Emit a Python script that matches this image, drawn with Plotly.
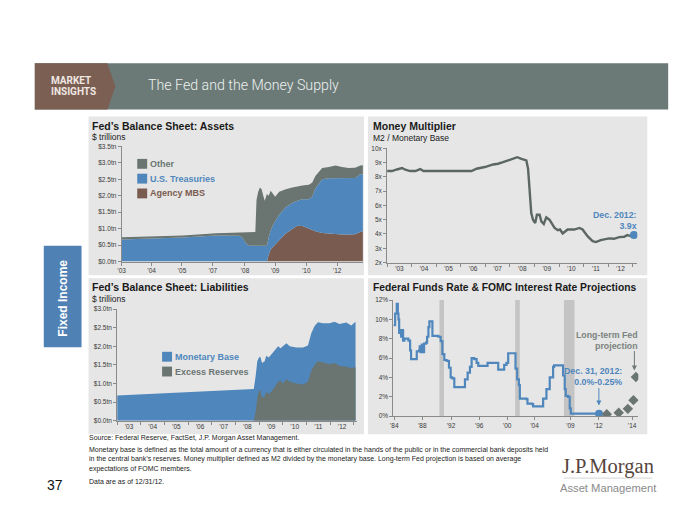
import plotly.graph_objects as go

W, H = 700, 525
def px(x): return x / W
def py(y): return 1 - y / H

SANS = "Liberation Sans, Arial, sans-serif"
NARROW = "Liberation Sans Narrow, Arial Narrow, Liberation Sans, Arial, sans-serif"

BLUE = "#4f87bd"
GRAY = "#6a7572"
BROWN = "#7a5b4f"
PANEL = "#e6e6e6"

# ---------------- Data ----------------
# Fed's Balance Sheet: Assets ($ trillions)
assets_years = [2003.0, 2004.17, 2005.54, 2006.91, 2007.88, 2008.01, 2008.15, 2008.29, 2008.54,
                2008.59, 2008.66, 2008.73, 2008.80, 2008.87, 2008.93, 2009.02, 2009.09, 2009.18,
                2009.28, 2009.36, 2009.53, 2009.80, 2010.07, 2010.28, 2010.49, 2010.76, 2010.90,
                2011.03, 2011.31, 2011.59, 2011.86, 2012.13, 2012.41, 2012.68, 2012.89, 2013.0]
agency_mbs = [0, 0, 0, 0, 0, 0, 0, 0, 0, 0, 0, 0, 0, 0, 0, 0, 0.20, 0.37,
              0.45, 0.52, 0.65, 0.85, 1.00, 1.09, 1.08, 0.99, 0.95,
              0.92, 0.87, 0.85, 0.82, 0.82, 0.82, 0.83, 0.90, 0.93]
us_treasuries = [0.67, 0.69, 0.73, 0.79, 0.78, 0.72, 0.55, 0.48, 0.48, 0.48, 0.48, 0.48, 0.48, 0.48, 0.48, 0.48, 0.52, 0.58,
                 0.67, 0.70, 0.77, 0.80, 0.78, 0.76, 0.81, 0.90, 1.03,
                 1.30, 1.63, 1.68, 1.71, 1.70, 1.70, 1.71, 1.75, 1.72]
other_assets = [0.07, 0.07, 0.06, 0.07, 0.10, 0.16, 0.34, 0.41, 0.42, 1.39, 1.64, 1.77, 1.72, 1.52, 1.37, 1.57, 1.28, 1.20,
                0.93, 0.75, 0.70, 0.55, 0.47, 0.44, 0.42, 0.44, 0.42,
                0.38, 0.34, 0.34, 0.39, 0.35, 0.32, 0.31, 0.27, 0.28]
assets_tick_pos = [2003.0, 2004.24, 2005.5, 2006.78, 2008.11, 2009.36, 2010.65, 2011.93]
assets_tick_txt = ["’03", "’04", "’05", "’07", "’08", "’09", "’10", "’12"]
assets_y_ticks = [0, 0.5, 1.0, 1.5, 2.0, 2.5, 3.0, 3.5]
assets_y_txt = ["$0.0tn", "$0.5tn", "$1.0tn", "$1.5tn", "$2.0tn", "$2.5tn", "$3.0tn", "$3.5tn"]

# Money multiplier (M2 / Monetary Base)
mm_years = [2003.0, 2003.2, 2003.4, 2003.61, 2003.74, 2003.94, 2004.15, 2004.35, 2004.48, 2004.96,
            2005.5, 2006.04, 2006.44, 2006.64, 2006.98, 2007.32, 2007.52, 2007.72, 2007.93, 2008.13,
            2008.30, 2008.47, 2008.67, 2008.74, 2008.80, 2008.87, 2008.94, 2009.03, 2009.10, 2009.21,
            2009.28, 2009.38, 2009.48, 2009.61, 2009.82, 2009.95, 2010.04, 2010.15, 2010.35, 2010.62,
            2010.83, 2010.96, 2011.16, 2011.37, 2011.50, 2011.70, 2012.04, 2012.24, 2012.45, 2012.65,
            2012.78, 2012.92, 2013.05]
mm_values = [8.41, 8.41, 8.52, 8.62, 8.50, 8.41, 8.41, 8.55, 8.41, 8.41,
             8.41, 8.46, 8.41, 8.57, 8.69, 8.87, 8.92, 9.03, 9.15, 9.31,
             9.38, 9.26, 9.15, 8.57, 7.07, 5.46, 5.00, 4.77, 5.35, 5.35,
             4.88, 4.70, 5.16, 5.00, 4.42, 4.26, 4.31, 4.03, 4.31, 4.31,
             4.42, 4.31, 3.85, 3.50, 3.43, 3.57, 3.69, 3.66, 3.78, 3.80,
             3.92, 3.85, 3.92]
mm_tick_pos = [2003.5, 2004.5, 2005.5, 2006.5, 2007.5, 2008.5, 2009.5, 2010.5, 2011.5, 2012.5]
mm_tick_txt = ["’03", "’04", "’05", "’06", "’07", "’08", "’09", "’10", "’11", "’12"]
mm_y_ticks = [2, 3, 4, 5, 6, 7, 8, 9, 10]
mm_y_txt = ["2x", "3x", "4x", "5x", "6x", "7x", "8x", "9x", "10x"]

# Fed's Balance Sheet: Liabilities ($ trillions)
liab_years = [2003.0, 2005.79, 2008.67, 2008.77, 2008.85, 2008.92, 2008.99, 2009.05, 2009.12, 2009.23,
              2009.30, 2009.40, 2009.51, 2009.66, 2009.80, 2009.90, 2010.01, 2010.15, 2010.29, 2010.57,
              2010.85, 2011.06, 2011.20, 2011.34, 2011.48, 2011.69, 2011.97, 2012.18, 2012.39, 2012.68,
              2012.89, 2013.07]
monetary_base = [0.68, 0.76, 0.83, 0.85, 1.20, 1.60, 1.70, 1.72, 1.55, 1.60,
                 1.75, 1.70, 1.78, 1.90, 2.00, 1.95, 2.00, 2.08, 2.00, 1.97,
                 1.97, 2.02, 2.35, 2.55, 2.65, 2.62, 2.62, 2.66, 2.60, 2.64,
                 2.56, 2.66]
excess_reserves = [0, 0, 0, 0, 0.25, 0.62, 0.80, 0.82, 0.62, 0.65,
                   0.78, 0.72, 0.78, 0.92, 1.05, 1.08, 1.00, 1.12, 1.05, 1.00,
                   0.97, 1.05, 1.35, 1.50, 1.60, 1.57, 1.52, 1.55, 1.48, 1.45,
                   1.42, 1.44]
liab_y_ticks = [0, 0.5, 1.0, 1.5, 2.0, 2.5, 3.0]
liab_y_txt = ["$0.0tn", "$0.5tn", "$1.0tn", "$1.5tn", "$2.0tn", "$2.5tn", "$3.0tn"]

# Federal funds rate (%)
ff_years = [1984.0, 1984.24, 1984.47, 1984.62, 1984.71, 1984.81, 1984.95, 1985.09, 1985.23, 1985.37,
            1985.56, 1985.9, 1986.13, 1986.37, 1986.51, 1987.18, 1987.32, 1987.65, 1987.74, 1987.89,
            1988.03, 1988.17, 1988.36, 1988.64, 1988.79, 1988.98, 1989.12, 1989.36, 1989.55, 1990.4,
            1990.73, 1990.97, 1991.25, 1991.58, 1991.91, 1992.15, 1992.39, 1992.67, 1993.95, 1994.19,
            1994.57, 1994.9, 1995.14, 1995.52, 1995.85, 1996.09, 1997.27, 1997.41, 1998.69, 1998.93,
            1999.4, 1999.78, 2000.11, 2000.35, 2001.2, 2001.39, 2001.63, 2001.87, 2002.01, 2002.96,
            2003.1, 2003.76, 2003.9, 2004.85, 2005.33, 2005.8, 2006.27, 2006.75, 2006.89, 2007.93,
            2008.17, 2008.41, 2008.55, 2008.89, 2009.12, 2009.27, 2013.3]
ff_rate = [9.4, 10.6, 11.6, 10.6, 10.0, 8.6, 8.9, 8.2, 8.9, 7.8,
           8.0, 8.0, 7.8, 6.8, 5.9, 5.9, 6.7, 6.8, 7.2, 6.6,
           7.4, 6.6, 7.5, 7.6, 8.2, 9.2, 9.8, 9.8, 8.3, 8.2,
           7.75, 6.4, 5.8, 5.7, 5.0, 4.0, 3.9, 3.0, 3.0, 3.8,
           4.5, 5.1, 6.0, 5.9, 5.5, 5.2, 5.2, 5.5, 5.5, 4.8,
           4.8, 5.3, 5.5, 6.5, 6.5, 4.9, 3.8, 3.2, 1.8, 1.75,
           1.3, 1.25, 1.0, 1.0, 1.8, 2.8, 4.0, 5.1, 5.25, 5.25,
           4.2, 2.8, 2.1, 2.0, 0.8, 0.25, 0.25]
ff_last_year = [2013.3]
ff_last_rate = [0.25]
fomc_years = [2014.4, 2016.1, 2017.4, 2018.2, 2018.55]
fomc_rates = [0.2, 0.35, 0.75, 1.65, 4.05]
recessions = [(1990.55, 1991.2), (2001.35, 2002.0), (2008.3, 2009.8)]
ff_tick_pos = [1984.1, 1988.1, 1992.2, 1996.2, 2000.2, 2004.1, 2009.2, 2013.2, 2018.0]
ff_tick_txt = ["’84", "’88", "’92", "’96", "’00", "’04", "’09", "’12", "’14"]
ff_y_ticks = [0, 2, 4, 6, 8, 10, 12]
ff_y_txt = ["0%", "2%", "4%", "6%", "8%", "10%", "12%"]

# ---------------- Figure ----------------
fig = go.Figure()

# Assets stacked areas
for name, vals, col in [("Agency MBS", agency_mbs, BROWN), ("U.S. Treasuries", us_treasuries, BLUE),
                        ("Other", other_assets, GRAY)]:
    fig.add_trace(go.Scatter(x=assets_years, y=vals, name=name, mode="lines", stackgroup="a",
                             line=dict(width=0, color=col), fillcolor=col, xaxis="x", yaxis="y",
                             hoverinfo="skip"))

# Money multiplier
fig.add_trace(go.Scatter(x=mm_years, y=mm_values, mode="lines", line=dict(color="#5c6764", width=2.4),
                         xaxis="x2", yaxis="y2", hoverinfo="skip"))
fig.add_trace(go.Scatter(x=mm_years[-1:], y=mm_values[-1:], mode="markers",
                         marker=dict(color=BLUE, size=8), xaxis="x2", yaxis="y2", hoverinfo="skip"))

# Liabilities
fig.add_trace(go.Scatter(x=liab_years, y=monetary_base, mode="lines", fill="tozeroy",
                         line=dict(width=0, color=BLUE), fillcolor=BLUE, xaxis="x3", yaxis="y3", hoverinfo="skip"))
fig.add_trace(go.Scatter(x=liab_years, y=excess_reserves, mode="lines", fill="tozeroy",
                         line=dict(width=0, color=GRAY), fillcolor=GRAY, xaxis="x3", yaxis="y3", hoverinfo="skip"))

# Fed funds
fig.add_trace(go.Scatter(x=ff_years, y=ff_rate, mode="lines", line=dict(color=BLUE, width=2.2, shape="hv"),
                         xaxis="x4", yaxis="y4", hoverinfo="skip"))
fig.add_trace(go.Scatter(x=ff_last_year, y=ff_last_rate, mode="markers", marker=dict(color=BLUE, size=8),
                         xaxis="x4", yaxis="y4", hoverinfo="skip"))
fig.add_trace(go.Scatter(x=fomc_years, y=fomc_rates, mode="markers",
                         marker=dict(color=GRAY, size=8, symbol="diamond"), xaxis="x4", yaxis="y4",
                         hoverinfo="skip"))

# ---------------- Shapes ----------------
shapes = []
def rect(x0, y0, x1, y1, color):
    shapes.append(dict(type="rect", xref="paper", yref="paper", x0=px(x0), x1=px(x1), y0=py(y1), y1=py(y0),
                       fillcolor=color, line=dict(width=0), layer="below"))

# Header
rect(31, 60, 668, 107, "#6b7a77")
shapes.append(dict(type="path", xref="paper", yref="paper", layer="below", line=dict(width=0),
                   fillcolor="#7b5f53",
                   path=f"M {px(31)},{py(60)} L {px(104)},{py(60)} L {px(112)},{py(83.5)} "
                        f"L {px(104)},{py(107)} L {px(31)},{py(107)} Z"))
# Panels
rect(85, 114, 362, 275, PANEL)
rect(366, 114, 647, 275, PANEL)
rect(85, 278, 362, 436, PANEL)
rect(366, 278, 647, 436, PANEL)
# Fixed income tab
rect(40, 245, 78, 348, "#4f81b5")
# Recessions
for r0, r1 in recessions:
    shapes.append(dict(type="rect", xref="x4", yref="y4", x0=r0, x1=r1, y0=0, y1=12,
                       fillcolor="#c4c4c4", line=dict(width=0), layer="below"))
# Legend squares
for yc, col in [(162, GRAY), (177, BLUE), (192, BROWN)]:
    rect(134, yc - 5, 144, yc + 5, col)
for yc, col in [(357.5, BLUE), (372.5, GRAY)]:
    rect(159, yc - 5, 169, yc + 5, col)
# logo rule
shapes.append(dict(type="line", xref="paper", yref="paper", x0=px(563), x1=px(652), y0=py(480.5), y1=py(480.5),
                   line=dict(color="#c9c9c9", width=0.8)))

# ---------------- Annotations ----------------
ann = []
def T(x, y, s, size=9, color="#1a1a1a", xanchor="left", family=SANS, bold=False, align="left", angle=0,
      weight=None):
    f = dict(size=size, color=color, family=family)
    if weight is not None:
        f["weight"] = weight
    ann.append(dict(xref="paper", yref="paper", x=px(x), y=py(y), text=(f"<b>{s}</b>" if bold else s),
                    showarrow=False, xanchor=xanchor, yanchor="middle", font=f, align=align,
                    textangle=angle, borderpad=0))

T(46, 77.5, "MARKET", 10, "#efe7e2", family="Roboto, " + SANS, bold=True)
T(46, 88.5, "INSIGHTS", 10, "#efe7e2", family="Roboto, " + SANS, bold=True)
T(144, 82.5, "The Fed and the Money Supply", 14.2, "#eef1f0", family="Roboto, " + SANS, weight=300)

T(88, 123.5, "Fed’s Balance Sheet: Assets", 10.5, bold=True)
T(88, 135, "$ trillions", 8.5, "#222", family=NARROW)
T(370, 123.5, "Money Multiplier", 10.5, bold=True)
T(370, 135.5, "M2 / Monetary Base", 8.5, "#222", family=NARROW)
T(88, 287, "Fed’s Balance Sheet: Liabilities", 10.5, bold=True)
T(88, 298.5, "$ trillions", 8.5, "#222", family=NARROW)
T(370, 287.5, "Federal Funds Rate &amp; FOMC Interest Rate Projections", 10.3, bold=True)

T(146, 162, "Other", 9, GRAY, bold=True)
T(146, 177, "U.S. Treasuries", 9, BLUE, bold=True)
T(146, 192, "Agency MBS", 9, BROWN, bold=True)
T(171, 357.5, "Monetary Base", 9, BLUE, bold=True)
T(171, 372.5, "Excess Reserves", 9, GRAY, bold=True)

T(637.5, 219, "Dec. 2012:<br>3.9x", 8.8, BLUE, xanchor="right", bold=True, align="right")
T(623, 377.5, "Dec. 31, 2012:<br>0.0%-0.25%", 8.8, BLUE, xanchor="right", bold=True, align="right")
T(639, 341, "Long-term Fed<br>projection", 8.8, "#7b8380", xanchor="right", bold=True, align="right")

# arrows
ann.append(dict(xref="paper", yref="paper", x=px(598.3), y=py(407), ax=0, ay=-19, text="", showarrow=True,
                arrowhead=2, arrowsize=1, arrowwidth=1, arrowcolor=BLUE))
ann.append(dict(xref="paper", yref="paper", x=px(634), y=py(371.5), ax=0, ay=-21, text="", showarrow=True,
                arrowhead=2, arrowsize=1, arrowwidth=1, arrowcolor="#6f7874"))

T(59, 298, "Fixed Income", 12, "white", xanchor="center", bold=True, angle=-90)

T(84, 440, "Source: Federal Reserve, FactSet, J.P. Morgan Asset Management.", 7, "#222", family=NARROW)
T(84, 452, "Monetary base is defined as the total amount of a currency that is either circulated in the hands of the public or in the commercial bank deposits held", 7, "#222", family=NARROW)
T(84, 461.5, "in the central bank’s reserves. Money multiplier defined as M2 divided by the monetary base. Long-term Fed projection is based on average", 7, "#222", family=NARROW)
T(84, 471, "expectations of FOMC members.", 7, "#222", family=NARROW)
T(84, 483.5, "Data are as of 12/31/12.", 7, "#222", family=NARROW)
T(42, 488, "37", 14, "#111")

T(607.5, 469, "J.P.Morgan", 20.5, "#56453d", xanchor="center", family="Liberation Serif, DejaVu Serif, serif")
T(607.5, 490.5, "Asset Management", 11.2, "#8a8a8a", xanchor="center", family=SANS)

# ---------------- Axes ----------------
def ax(**kw):
    d = dict(showline=True, linecolor="#8a8a8a", linewidth=1, showgrid=False, zeroline=False,
             ticks="outside", ticklen=3, tickcolor="#8a8a8a",
             tickfont=dict(size=6.5, color="#3a3a3a", family=NARROW), fixedrange=True)
    d.update(kw)
    return d

minor_years = dict(tickmode="linear", tick0=2003, dtick=1, ticks="outside", ticklen=3, tickcolor="#8a8a8a")

fig.update_layout(
    width=W, height=H, margin=dict(l=0, r=0, t=0, b=0), paper_bgcolor="white", plot_bgcolor="rgba(0,0,0,0)",
    showlegend=False, shapes=shapes, annotations=ann,
    xaxis=ax(domain=[px(118.3), px(361)], range=[2003, 2013], tickmode="array", tickvals=assets_tick_pos,
             ticktext=assets_tick_txt, anchor="y"),
    yaxis=ax(domain=[py(261), py(144.3)], range=[0, 3.5], tickmode="array", tickvals=assets_y_ticks,
             ticktext=assets_y_txt, anchor="x"),
    xaxis2=ax(domain=[px(385.3), px(637)], range=[2003, 2013.19], tickmode="array", tickvals=mm_tick_pos,
              ticktext=mm_tick_txt, ticks="", minor=minor_years, anchor="y2"),
    yaxis2=ax(domain=[py(262), py(146.3)], range=[2, 10], tickmode="array", tickvals=mm_y_ticks,
              ticktext=mm_y_txt, anchor="x2"),
    xaxis3=ax(domain=[px(113.8), px(355)], range=[2003, 2013.13], tickmode="array", tickvals=mm_tick_pos,
              ticktext=mm_tick_txt, ticks="", minor=minor_years, anchor="y3"),
    yaxis3=ax(domain=[py(422.3), py(309.3)], range=[0, 3], tickmode="array", tickvals=liab_y_ticks,
              ticktext=liab_y_txt, anchor="x3"),
    xaxis4=ax(domain=[px(391.7), px(638)], range=[1984, 2018.9], tickmode="array", tickvals=ff_tick_pos,
              ticktext=ff_tick_txt, anchor="y4"),
    yaxis4=ax(domain=[py(417.7), py(300)], range=[0, 12], tickmode="array", tickvals=ff_y_ticks,
              ticktext=ff_y_txt, anchor="x4"),
)

fig.write_html("out.html")
